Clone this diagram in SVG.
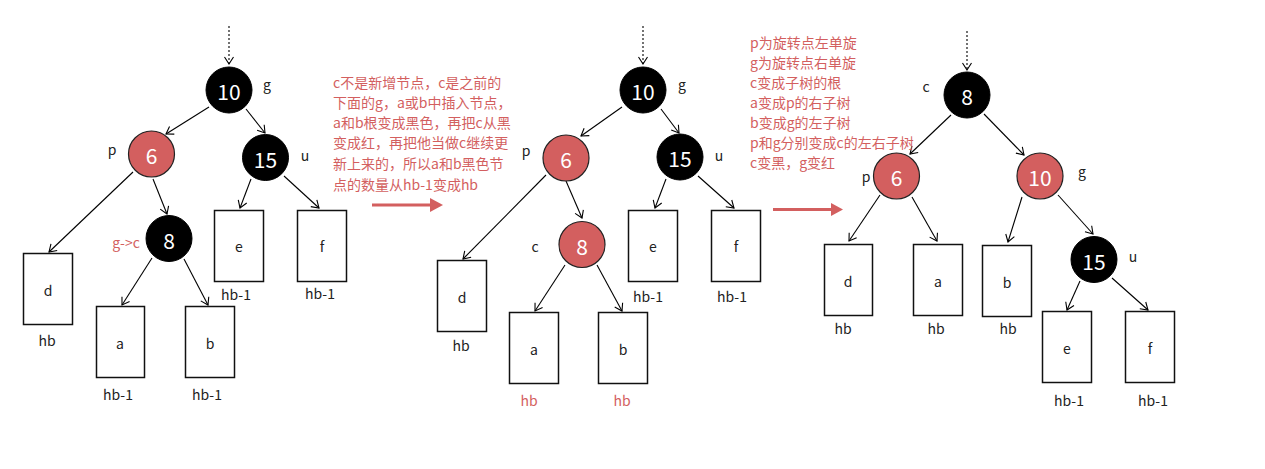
<svg xmlns="http://www.w3.org/2000/svg" width="1265" height="469" viewBox="0 0 1265 469">
<defs>
<style>
text{font-family:"Noto Sans CJK SC","Noto Sans",sans-serif;}
.bk{fill:#000;stroke:#000;stroke-width:1}
.rd{fill:#d35f5f;stroke:#222;stroke-width:1.2}
.num{fill:#fff;font-size:21px;text-anchor:middle;dominant-baseline:central}
.lbl{fill:#222;font-size:14px;text-anchor:middle;dominant-baseline:central}
.rl{fill:#d35f5f;font-size:14px;text-anchor:middle;dominant-baseline:central}
.box{fill:#fff;stroke:#111;stroke-width:1.5}
.ed{stroke:#000;stroke-width:1.1;fill:none;marker-end:url(#ar)}
.dot{stroke:#000;stroke-width:1.1;fill:none;stroke-dasharray:2 2;marker-end:url(#ar)}
.note{fill:#d35f5f;font-size:14px}
</style>
<marker id="ar" markerUnits="userSpaceOnUse" markerWidth="12" markerHeight="12" viewBox="0 0 12 12" refX="10" refY="6" orient="auto">
<path d="M3,1.5 L10,6 L3,10.5" fill="none" stroke="#000" stroke-width="1.1"/>
</marker>
</defs>
<rect width="1265" height="469" fill="#fff"/>

<g id="connectors">
<!-- tree 1 -->
<line class="dot" x1="229" y1="26" x2="229" y2="64"/>
<line class="ed" x1="209" y1="107" x2="166" y2="134"/>
<line class="ed" x1="246" y1="109" x2="265" y2="133"/>
<line class="ed" x1="133" y1="172" x2="49" y2="252"/>
<line class="ed" x1="153" y1="179" x2="167" y2="214"/>
<line class="ed" x1="152" y1="258" x2="122" y2="305"/>
<line class="ed" x1="184" y1="259" x2="208" y2="305"/>
<line class="ed" x1="251" y1="179" x2="240" y2="208"/>
<line class="ed" x1="284" y1="176" x2="319" y2="208"/>
<!-- tree 2 -->
<line class="dot" x1="643" y1="26" x2="643" y2="64"/>
<line class="ed" x1="622" y1="107" x2="581" y2="136"/>
<line class="ed" x1="661" y1="109" x2="679" y2="133"/>
<line class="ed" x1="546" y1="175" x2="463" y2="259"/>
<line class="ed" x1="566" y1="181" x2="582" y2="218"/>
<line class="ed" x1="565" y1="265" x2="535" y2="311"/>
<line class="ed" x1="597" y1="265" x2="622" y2="311"/>
<line class="ed" x1="666" y1="179" x2="655" y2="208"/>
<line class="ed" x1="698" y1="176" x2="734" y2="208"/>
<!-- tree 3 -->
<line class="dot" x1="967" y1="31" x2="967" y2="70"/>
<line class="ed" x1="951" y1="115" x2="910" y2="154"/>
<line class="ed" x1="984" y1="114" x2="1024" y2="155"/>
<line class="ed" x1="880" y1="195" x2="849" y2="241"/>
<line class="ed" x1="912" y1="197" x2="937" y2="241"/>
<line class="ed" x1="1022" y1="197" x2="1008" y2="242"/>
<line class="ed" x1="1058" y1="195" x2="1093" y2="234"/>
<line class="ed" x1="1080" y1="281" x2="1067" y2="310"/>
<line class="ed" x1="1112" y1="278" x2="1148" y2="310"/>
<!-- red transition arrows -->
<line x1="372" y1="205" x2="432" y2="205" stroke="#d35f5f" stroke-width="3"/>
<polygon points="430,198 443,205 430,212" fill="#d35f5f"/>
<line x1="773" y1="209.5" x2="833" y2="209.5" stroke="#d35f5f" stroke-width="3"/>
<polygon points="831,203 843,209.5 831,216" fill="#d35f5f"/>
</g>

<!-- Tree 1 -->
<g id="t1-n10"><circle class="bk" cx="229" cy="90" r="23"/><text class="num" x="229" y="91">10</text><text class="lbl" x="267" y="84">g</text></g>
<g id="t1-n6"><circle class="rd" cx="151.5" cy="154" r="23"/><text class="num" x="151.5" y="155">6</text><text class="lbl" x="112" y="149">p</text></g>
<g id="t1-n15"><circle class="bk" cx="265.5" cy="157.5" r="23"/><text class="num" x="265.5" y="158.5">15</text><text class="lbl" x="305" y="155">u</text></g>
<g id="t1-n8"><circle class="bk" cx="169" cy="238.5" r="23"/><text class="num" x="169" y="239.5">8</text><text class="rl" x="126" y="242">g-&gt;c</text></g>
<g id="t1-d"><rect class="box" x="23.5" y="253.5" width="49" height="71"/><text class="lbl" x="48" y="290">d</text><text class="lbl" x="47" y="340">hb</text></g>
<g id="t1-a"><rect class="box" x="96.5" y="306.5" width="48" height="71"/><text class="lbl" x="120" y="343">a</text><text class="lbl" x="118" y="394">hb-1</text></g>
<g id="t1-b"><rect class="box" x="185.5" y="306.5" width="49" height="71"/><text class="lbl" x="210" y="343">b</text><text class="lbl" x="207" y="394">hb-1</text></g>
<g id="t1-e"><rect class="box" x="214.5" y="210.5" width="49" height="71"/><text class="lbl" x="239" y="246">e</text><text class="lbl" x="236" y="294">hb-1</text></g>
<g id="t1-f"><rect class="box" x="297.5" y="210.5" width="49" height="71"/><text class="lbl" x="322" y="246">f</text><text class="lbl" x="320" y="293">hb-1</text></g>

<g id="note1">
<text class="note" x="333" y="88">c不是新增节点，c是之前的</text>
<text class="note" x="333" y="108">下面的g，a或b中插入节点，</text>
<text class="note" x="333" y="128">a和b根变成黑色，再把c从黑</text>
<text class="note" x="333" y="148">变成红，再把他当做c继续更</text>
<text class="note" x="333" y="169">新上来的，所以a和b黑色节</text>
<text class="note" x="333" y="190">点的数量从hb-1变成hb</text>
</g>

<!-- Tree 2 -->
<g id="t2-n10"><circle class="bk" cx="643" cy="90" r="23"/><text class="num" x="643" y="91">10</text><text class="lbl" x="682" y="84">g</text></g>
<g id="t2-n6"><circle class="rd" cx="566" cy="158" r="23"/><text class="num" x="566" y="159">6</text><text class="lbl" x="526" y="150">p</text></g>
<g id="t2-n15"><circle class="bk" cx="680" cy="157" r="23"/><text class="num" x="680" y="158">15</text><text class="lbl" x="719" y="155">u</text></g>
<g id="t2-n8"><circle class="rd" cx="582" cy="244.5" r="23"/><text class="num" x="582" y="245.5">8</text><text class="lbl" x="535" y="246">c</text></g>
<g id="t2-d"><rect class="box" x="437.5" y="260.5" width="49" height="71"/><text class="lbl" x="462" y="297">d</text><text class="lbl" x="461" y="345">hb</text></g>
<g id="t2-a"><rect class="box" x="509.5" y="312.5" width="49" height="71"/><text class="lbl" x="534" y="349">a</text><text class="rl" x="529" y="400">hb</text></g>
<g id="t2-b"><rect class="box" x="598.5" y="312.5" width="49" height="71"/><text class="lbl" x="623" y="349">b</text><text class="rl" x="622" y="400">hb</text></g>
<g id="t2-e"><rect class="box" x="628.5" y="210.5" width="49" height="71"/><text class="lbl" x="653" y="246">e</text><text class="lbl" x="648" y="296">hb-1</text></g>
<g id="t2-f"><rect class="box" x="711.5" y="210.5" width="49" height="71"/><text class="lbl" x="736" y="246">f</text><text class="lbl" x="732" y="296">hb-1</text></g>

<g id="note2">
<text class="note" x="750" y="48">p为旋转点左单旋</text>
<text class="note" x="750" y="68">g为旋转点右单旋</text>
<text class="note" x="750" y="88">c变成子树的根</text>
<text class="note" x="750" y="108">a变成p的右子树</text>
<text class="note" x="750" y="128">b变成g的左子树</text>
<text class="note" x="750" y="148">p和g分别变成c的左右子树</text>
<text class="note" x="750" y="168">c变黑，g变红</text>
</g>

<!-- Tree 3 -->
<g id="t3-n8"><circle class="bk" cx="967" cy="95" r="23"/><text class="num" x="967" y="96">8</text><text class="lbl" x="926" y="86">c</text></g>
<g id="t3-n6"><circle class="rd" cx="896.5" cy="176" r="23"/><text class="num" x="896.5" y="177">6</text><text class="lbl" x="866" y="176">p</text></g>
<g id="t3-n10"><circle class="rd" cx="1040" cy="176" r="23"/><text class="num" x="1040" y="177">10</text><text class="lbl" x="1082" y="171">g</text></g>
<g id="t3-n15"><circle class="bk" cx="1094" cy="259.5" r="23"/><text class="num" x="1094" y="260.5">15</text><text class="lbl" x="1133" y="256">u</text></g>
<g id="t3-d"><rect class="box" x="824.5" y="244.5" width="48" height="71"/><text class="lbl" x="848" y="281">d</text><text class="lbl" x="843" y="328">hb</text></g>
<g id="t3-a"><rect class="box" x="913.5" y="244.5" width="49" height="71"/><text class="lbl" x="938" y="281">a</text><text class="lbl" x="936" y="328">hb</text></g>
<g id="t3-b"><rect class="box" x="982.5" y="245.5" width="49" height="71"/><text class="lbl" x="1007" y="282">b</text><text class="lbl" x="1008" y="328">hb</text></g>
<g id="t3-e"><rect class="box" x="1042.5" y="311.5" width="49" height="71"/><text class="lbl" x="1067" y="348">e</text><text class="lbl" x="1069" y="400">hb-1</text></g>
<g id="t3-f"><rect class="box" x="1125.5" y="311.5" width="49" height="71"/><text class="lbl" x="1150" y="348">f</text><text class="lbl" x="1153" y="400">hb-1</text></g>
</svg>
